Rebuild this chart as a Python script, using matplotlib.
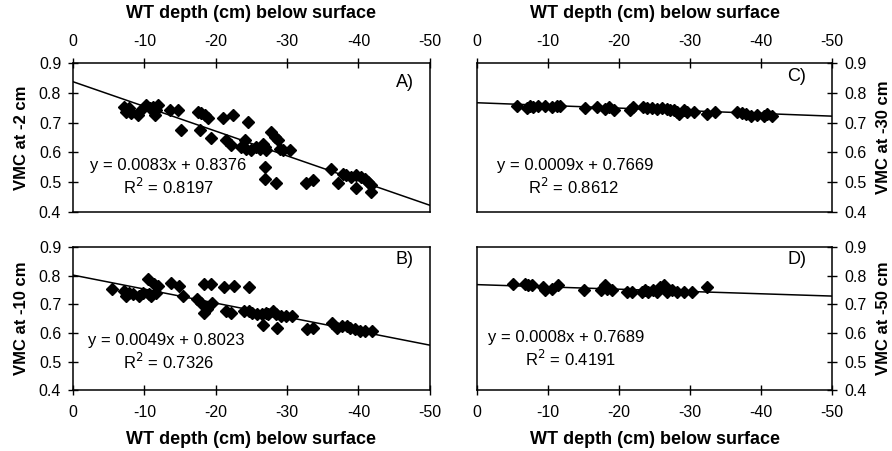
import matplotlib.pyplot as plt
import numpy as np

plt.rcParams["font.family"] = ["Liberation Sans", "DejaVu Sans"]

# WT depth (cm, negative below surface) and VMC readings per panel
depth_a = [-7.2, -7.5, -7.9, -8.2, -9.1, -9.6, -10.3, -10.8, -11.2, -11.5, -11.7, -11.9,
           -13.6, -14.7, -15.2, -17.5, -18.0, -18.5, -18.9, -17.8, -19.4, -21.0, -21.5,
           -22.2, -22.4, -24.5, -23.6, -24.1, -24.3, -25.0, -25.7, -26.2, -26.6, -26.9,
           -27.1, -27.8, -28.3, -28.7, -29.0, -29.4, -30.4, -26.9, -26.9, -28.5, -32.7,
           -33.6, -36.2, -37.2, -37.9, -38.3, -39.0, -39.7, -39.7, -40.4, -40.9, -41.4,
           -41.8, -41.8]
vmc_a = [0.754, 0.737, 0.748, 0.731, 0.726, 0.743, 0.760, 0.748, 0.754, 0.726, 0.743, 0.760,
         0.743, 0.743, 0.675, 0.737, 0.731, 0.726, 0.715, 0.675, 0.647, 0.715, 0.642,
         0.625, 0.726, 0.703, 0.619, 0.642, 0.613, 0.608, 0.619, 0.613, 0.630, 0.619,
         0.608, 0.670, 0.653, 0.642, 0.613, 0.608, 0.608, 0.552, 0.512, 0.496, 0.496,
         0.507, 0.546, 0.496, 0.529, 0.524, 0.518, 0.524, 0.479, 0.518, 0.512, 0.501,
         0.490, 0.467]

depth_b = [-5.4, -7.2, -7.4, -7.9, -8.4, -9.3, -9.8, -10.5, -10.7, -10.9, -11.4, -11.9,
           -11.6, -13.7, -14.9, -15.4, -17.4, -17.9, -18.4, -19.3, -19.5, -18.4, -18.8,
           -21.2, -22.6, -21.4, -22.1, -24.7, -24.0, -24.7, -25.1, -25.8, -26.5, -27.0,
           -26.7, -27.4, -28.1, -28.4, -28.6, -29.1, -29.8, -30.7, -32.8, -33.7, -36.3,
           -37.0, -37.7, -38.4, -38.8, -39.5, -40.2, -40.9, -41.9]
vmc_b = [0.753, 0.747, 0.729, 0.741, 0.735, 0.729, 0.741, 0.788, 0.735, 0.729, 0.771, 0.765,
         0.741, 0.776, 0.765, 0.729, 0.718, 0.706, 0.771, 0.771, 0.706, 0.671, 0.682,
         0.759, 0.765, 0.676, 0.671, 0.759, 0.676, 0.676, 0.671, 0.665, 0.665, 0.671,
         0.629, 0.665, 0.676, 0.665, 0.618, 0.659, 0.659, 0.659, 0.612, 0.618, 0.635,
         0.618, 0.624, 0.624, 0.618, 0.612, 0.606, 0.606, 0.606]

depth_c = [-5.6, -7.0, -7.4, -7.9, -8.6, -9.6, -10.5, -11.2, -11.7, -15.2, -16.9, -18.0,
           -18.5, -19.2, -21.5, -22.0, -23.4, -23.9, -24.6, -25.3, -26.0, -26.7, -27.2,
           -27.7, -28.1, -28.4, -29.1, -29.5, -30.5, -32.4, -33.5, -36.6, -37.3, -37.8,
           -38.5, -39.4, -40.4, -40.8, -41.5]
vmc_c = [0.755, 0.748, 0.755, 0.752, 0.755, 0.755, 0.752, 0.755, 0.755, 0.748, 0.752, 0.746,
         0.752, 0.744, 0.744, 0.752, 0.752, 0.748, 0.748, 0.746, 0.748, 0.746, 0.744,
         0.741, 0.735, 0.730, 0.741, 0.735, 0.735, 0.730, 0.735, 0.735, 0.733, 0.730,
         0.724, 0.726, 0.724, 0.730, 0.722]

depth_d = [-5.1, -6.7, -7.2, -7.7, -9.3, -9.6, -10.5, -11.4, -15.0, -17.5, -18.0, -18.3,
           -19.0, -21.1, -21.8, -23.2, -23.7, -24.1, -24.8, -25.3, -25.8, -26.3, -26.7,
           -27.4, -28.1, -29.1, -30.2, -32.4]
vmc_d = [0.772, 0.772, 0.766, 0.769, 0.760, 0.749, 0.755, 0.766, 0.749, 0.749, 0.766, 0.755,
         0.749, 0.743, 0.743, 0.743, 0.749, 0.743, 0.749, 0.743, 0.760, 0.766, 0.743,
         0.749, 0.743, 0.743, 0.743, 0.760]

slopes = [0.0083, 0.0049, 0.0009, 0.0008]
intercepts = [0.8376, 0.8023, 0.7669, 0.7689]
r_squared = ["0.8197", "0.7326", "0.8612", "0.4191"]
panel_tags = ["A)", "B)", "C)", "D)"]
ylabels = ["VMC at -2 cm", "VMC at -10 cm", "VMC at -30 cm", "VMC at -50 cm"]
xticks = [0, -10, -20, -30, -40, -50]
yticks = [0.4, 0.5, 0.6, 0.7, 0.8, 0.9]

datasets = [(depth_a, vmc_a), (depth_b, vmc_b), (depth_c, vmc_c), (depth_d, vmc_d)]

fig = plt.figure(figsize=(8.92, 4.51), dpi=100)
rects = [
    [0.0818, 0.530, 0.400, 0.330],
    [0.0818, 0.135, 0.400, 0.317],
    [0.535, 0.530, 0.398, 0.330],
    [0.535, 0.135, 0.398, 0.317],
]
eq_pos = [(0.048, 0.315, 0.14, 0.168), (0.042, 0.35, 0.14, 0.196),
          (0.056, 0.315, 0.144, 0.168), (0.03, 0.37, 0.135, 0.217)]
tag_pos = [(0.905, 0.93), (0.905, 0.97), (0.873, 0.97), (0.873, 0.97)]

for i, (rect, (xs, ys)) in enumerate(zip(rects, datasets)):
    ax = fig.add_axes(rect)
    top = i in (0, 2)
    right = i in (2, 3)

    xl = np.array([0, -50])
    ax.plot(xl, slopes[i] * xl + intercepts[i], color="black", linewidth=1.1, zorder=2)
    ax.plot(xs, ys, linestyle="none", marker="D", markersize=6.3,
            color="black", zorder=3)

    ax.set_xlim(0, -50)
    ax.set_ylim(0.4, 0.9)
    ax.set_xticks(xticks)
    ax.set_xticklabels([str(t) for t in xticks])
    ax.set_yticks(yticks)
    ax.set_yticklabels([f"{t:.1f}" for t in yticks])

    ax.tick_params(axis="both", direction="inout", length=7, width=1,
                   labelsize=11.5, colors="black")
    ax.tick_params(axis="x", pad=7, top=top, bottom=not top,
                   labeltop=top, labelbottom=not top)
    ax.tick_params(axis="y", pad=5, left=not right, right=right,
                   labelleft=not right, labelright=right)
    for sp in ax.spines.values():
        sp.set_linewidth(1.1)
        sp.set_color("black")

    if top:
        ax.xaxis.set_label_position("top")
    ax.set_xlabel("WT depth (cm) below surface", fontsize=13, fontweight="bold",
                  labelpad=11 if top else 8)
    if right:
        ax.yaxis.set_label_position("right")
    ax.set_ylabel(ylabels[i], fontsize=12, fontweight="bold", labelpad=7)

    ex, ey, rx, ry = eq_pos[i]
    ax.text(ex, ey, f"y = {slopes[i]:.4f}x + {intercepts[i]:.4f}", transform=ax.transAxes,
            fontsize=12, ha="left", va="center")
    ax.text(rx, ry, f"R$^2$ = {r_squared[i]}", transform=ax.transAxes,
            fontsize=12, ha="left", va="center")
    tx, ty = tag_pos[i]
    ax.text(tx, ty, panel_tags[i], transform=ax.transAxes, fontsize=13,
            ha="left", va="top")

fig.savefig("out.png", dpi=100, facecolor="white")
